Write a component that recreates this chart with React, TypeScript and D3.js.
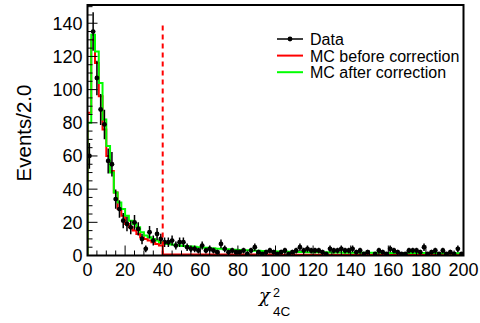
import { useEffect, useRef } from "react";
import * as d3 from "d3";

// chi2_4C histogram, 100 bins of width 2 on [0, 200]
const binEdges = d3.range(0, 200, 2);

const dataCounts = [
  60, 135, 107, 88, 79, 57, 55, 34, 28, 21,
  19, 17, 20, 16, 10, 4, 14, 9, 13, 10,
  8, 8, 9, 6, 8, 8, 5, 4, 4, 3,
  6, 3, 4, 3, 2, 7, 4, 2, 3, 2,
  2, 3, 1, 3, 5, 2, 1, 2, 3, 2,
  1, 2, 3, 1, 2, 3, 5, 3, 4, 3,
  3, 3, 2, 1, 4, 3, 3, 4, 3, 3,
  4, 2, 3, 1, 2, 0, 1, 3, 2, 1,
  4, 3, 2, 1, 1, 3, 3, 3, 2, 5,
  1, 2, 3, 1, 3, 1, 2, 1, 4, 1,
];

const mcBefore = [
  86, 130, 116, 96, 76, 60, 51, 38, 28, 24,
  19, 17, 15, 13, 11, 10, 9, 8, 7, 6,
  0.6, 0.6, 0.6, 0.6, 0.6, 0.6, 0.6, 0.6, 0.6, 0.6,
  0.6, 0.6, 0.6, 0.6, 0.6, 0.6, 0.6, 0.6, 0.6, 0.6,
  0.6, 0.6, 0.6, 0.6, 0.6, 0.6, 0.6, 0.6, 0.6, 0.6,
  0.5, 0.5, 0.5, 0.5, 0.5, 0.5, 0.5, 0.5, 0.5, 0.5,
  0.5, 0.5, 0.5, 0.5, 0.5, 0.5, 0.5, 0.5, 0.5, 0.5,
  0.5, 0.5, 0.5, 0.5, 0.5, 0.5, 0.5, 0.5, 0.5, 0.5,
  0.5, 0.5, 0.5, 0.5, 0.5, 0.5, 0.5, 0.5, 0.5, 0.5,
  0.5, 0.5, 0.5, 0.5, 0.5, 0.5, 0.5, 0.5, 0.5, 0.5,
];

const mcAfter = [
  80, 133, 123, 104, 82, 66, 50, 38, 32, 28,
  24, 21, 19, 17, 14, 12, 11, 10, 9, 8,
  7.4, 7, 6.6, 6.3, 6, 5.8, 5.6, 5.4, 5.2, 5,
  4.8, 4.6, 4.4, 4.3, 4.1, 4, 3.8, 3.7, 3.5, 3.4,
  3.3, 3.2, 3.1, 3, 2.9, 2.8, 2.7, 2.6, 2.6, 2.5,
  2.4, 2.4, 2.3, 2.3, 2.2, 2.2, 2.1, 2.1, 2, 2,
  2, 1.9, 1.9, 1.9, 1.8, 1.8, 1.8, 1.8, 1.7, 1.7,
  1.7, 1.7, 1.7, 1.6, 1.6, 1.6, 1.6, 1.6, 1.6, 1.5,
  1.5, 1.5, 1.5, 1.5, 1.5, 1.5, 1.5, 1.5, 1.5, 1.5,
  1.5, 1.5, 1.5, 1.4, 1.4, 1.4, 1.4, 1.4, 1.4, 1.4,
];

const yMajorTicks = [0, 20, 40, 60, 80, 100, 120, 140];
const xMajorTicks = [0, 20, 40, 60, 80, 100, 120, 140, 160, 180, 200];
const legendLabels = ["Data", "MC before correction", "MC after correction"];
const cutValue = 40;
const cutTop = 141;

const FRAME = { left: 87.5, right: 463.5, top: 5, bottom: 255.5 };
const FONT = "'Liberation Sans', Arial, Helvetica, sans-serif";

export default function App() {
  const svgRef = useRef<SVGSVGElement>(null);

  useEffect(() => {
    document.body.style.margin = "0";
    if (!svgRef.current) return;
    const svg = d3.select(svgRef.current);
    svg.selectAll("*").remove();

    const x = d3.scaleLinear().domain([0, 200]).range([FRAME.left, FRAME.right]);
    const y = d3.scaleLinear().domain([0, 151]).range([FRAME.bottom, FRAME.top]);

    svg
      .append("defs")
      .append("clipPath")
      .attr("id", "frame-clip")
      .append("rect")
      .attr("x", FRAME.left)
      .attr("y", FRAME.top)
      .attr("width", FRAME.right - FRAME.left)
      .attr("height", FRAME.bottom - FRAME.top);

    const plot = svg.append("g").attr("clip-path", "url(#frame-clip)");

    // step outline of a histogram
    const histPath = (vals: number[]) => {
      const pts: [number, number][] = [[0, 0]];
      vals.forEach((v, i) => pts.push([binEdges[i], v]));
      pts.push([200, vals[vals.length - 1]]);
      pts.push([200, 0]);
      return d3
        .line<[number, number]>()
        .x((d) => x(d[0]))
        .y((d) => y(d[1]))
        .curve(d3.curveStepAfter)(pts);
    };

    plot
      .append("path")
      .attr("d", histPath(mcBefore))
      .attr("fill", "none")
      .attr("stroke", "#ff0000")
      .attr("stroke-width", 2);

    plot
      .append("path")
      .attr("d", histPath(mcAfter))
      .attr("fill", "none")
      .attr("stroke", "#00ff00")
      .attr("stroke-width", 2);

    // data points with error bars
    const pts = dataCounts
      .map((v, i) => ({ lo: binEdges[i], v }))
      .filter((d) => d.v > 0);
    const dg = plot.append("g");
    dg.selectAll(".xerr")
      .data(pts)
      .join("line")
      .attr("x1", (d) => x(d.lo))
      .attr("x2", (d) => x(d.lo + 2))
      .attr("y1", (d) => y(d.v))
      .attr("y2", (d) => y(d.v))
      .attr("stroke", "#000")
      .attr("stroke-width", 1.3);
    dg.selectAll(".yerr")
      .data(pts)
      .join("line")
      .attr("x1", (d) => x(d.lo + 1))
      .attr("x2", (d) => x(d.lo + 1))
      .attr("y1", (d) => y(d.v - Math.sqrt(d.v)))
      .attr("y2", (d) => y(d.v + Math.sqrt(d.v)))
      .attr("stroke", "#000")
      .attr("stroke-width", 1.5);
    dg.selectAll("circle")
      .data(pts)
      .join("circle")
      .attr("cx", (d) => x(d.lo + 1))
      .attr("cy", (d) => y(d.v))
      .attr("r", 2.4)
      .attr("fill", "#000");

    // cut line
    svg
      .append("line")
      .attr("x1", x(cutValue))
      .attr("x2", x(cutValue))
      .attr("y1", y(0))
      .attr("y2", y(cutTop))
      .attr("stroke", "#ff0000")
      .attr("stroke-width", 2)
      .attr("stroke-dasharray", "5,4");

    // frame
    svg
      .append("rect")
      .attr("x", FRAME.left)
      .attr("y", FRAME.top)
      .attr("width", FRAME.right - FRAME.left)
      .attr("height", FRAME.bottom - FRAME.top)
      .attr("fill", "none")
      .attr("stroke", "#000")
      .attr("stroke-width", 2);

    // y ticks
    const yMinor = d3.range(0, 151, 5);
    svg
      .append("g")
      .selectAll("line")
      .data(yMinor)
      .join("line")
      .attr("x1", FRAME.left)
      .attr("x2", (d) => FRAME.left + (d % 20 === 0 ? 10 : 5))
      .attr("y1", (d) => y(d))
      .attr("y2", (d) => y(d))
      .attr("stroke", "#000")
      .attr("stroke-width", 1);
    svg
      .append("g")
      .selectAll("text")
      .data(yMajorTicks)
      .join("text")
      .attr("x", FRAME.left - 5)
      .attr("y", (d) => y(d) + 6.5)
      .attr("text-anchor", "end")
      .attr("font-family", FONT)
      .attr("font-size", 18)
      .text((d) => d);

    // x ticks
    const xMinor = d3.range(0, 201, 5);
    svg
      .append("g")
      .selectAll("line")
      .data(xMinor)
      .join("line")
      .attr("x1", (d) => x(d))
      .attr("x2", (d) => x(d))
      .attr("y1", FRAME.bottom)
      .attr("y2", (d) => FRAME.bottom - (d % 20 === 0 ? 10 : 5))
      .attr("stroke", "#000")
      .attr("stroke-width", 1);
    svg
      .append("g")
      .selectAll("text")
      .data(xMajorTicks)
      .join("text")
      .attr("x", (d) => x(d))
      .attr("y", 276)
      .attr("text-anchor", "middle")
      .attr("font-family", FONT)
      .attr("font-size", 18)
      .text((d) => d);

    // axis titles
    svg
      .append("text")
      .attr("transform", "translate(31,133) rotate(-90)")
      .attr("text-anchor", "middle")
      .attr("font-family", FONT)
      .attr("font-size", 20.5)
      .text("Events/2.0");

    const xt = svg.append("g").attr("font-family", FONT);
    xt.append("text")
      .attr("x", 259)
      .attr("y", 302)
      .attr("font-family", "'DejaVu Serif', serif")
      .attr("font-style", "italic")
      .attr("font-size", 18)
      .text("χ");
    xt.append("text")
      .attr("x", 273)
      .attr("y", 297)
      .attr("font-size", 12.5)
      .text("2");
    xt.append("text")
      .attr("x", 273)
      .attr("y", 316)
      .attr("font-size", 13.5)
      .text("4C");

    // legend
    const colors = ["#000", "#ff0000", "#00ff00"];
    const lg = svg.append("g");
    legendLabels.forEach((label, i) => {
      const ly = 39 + i * 16.6;
      lg.append("line")
        .attr("x1", 277)
        .attr("x2", 303)
        .attr("y1", ly)
        .attr("y2", ly)
        .attr("stroke", colors[i])
        .attr("stroke-width", i === 0 ? 1.5 : 2);
      if (i === 0) {
        lg.append("circle").attr("cx", 290).attr("cy", ly).attr("r", 2.4).attr("fill", "#000");
      }
      lg.append("text")
        .attr("x", 310)
        .attr("y", ly + 6)
        .attr("font-family", FONT)
        .attr("font-size", 16)
        .text(label);
    });
  }, []);

  return (
    <svg
      ref={svgRef}
      width={480}
      height={323}
      style={{ position: "absolute", left: 0, top: 0, background: "#fff" }}
    />
  );
}
